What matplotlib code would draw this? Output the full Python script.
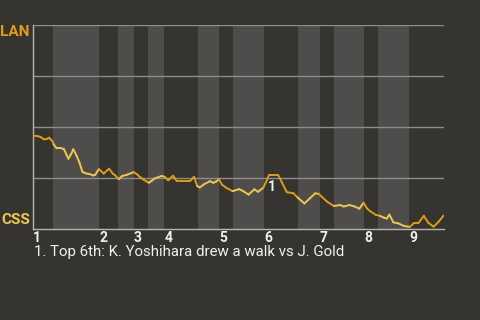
import matplotlib
matplotlib.use("Agg")
import matplotlib.pyplot as plt
from matplotlib.collections import LineCollection
import numpy as np

plt.rcParams['font.family'] = ['Roboto', 'DejaVu Sans']

# game progress (0-100) and LAN win probability (%) after each play
progress = [0, 1.1, 1.9, 2.6, 3.3, 3.9, 4.2, 4.7, 5.0, 5.7, 6.9, 7.5, 8.1, 8.6, 9.3, 9.8,
            10.6, 11.3, 12.0, 12.8, 13.7, 14.6, 15.1, 16.0, 17.2, 18.5, 19.4, 19.9, 20.9,
            21.7, 22.8, 24.5, 25.2, 26.0, 26.6, 27.1, 27.6, 28.2, 28.9, 29.7, 31.3, 32.1,
            32.9, 34.1, 35.0, 38.2, 39.2, 40.0, 40.6, 41.6, 43.1, 43.9, 44.5, 45.3, 46.0,
            47.1, 48.6, 50.2, 51.2, 52.5, 53.9, 54.8, 56.1, 57.5, 59.7, 60.6, 61.8, 63.4,
            64.5, 66.1, 67.5, 68.7, 69.6, 70.4, 71.6, 73.3, 74.8, 75.7, 77.1, 78.3, 79.5,
            80.5, 81.4, 82.1, 83.5, 84.5, 85.5, 86.2, 86.8, 87.8, 89.0, 90.4, 91.8, 92.8,
            93.9, 95.2, 96.3, 97.6, 98.8, 100]
win_prob = [45.7, 45.6, 45.0, 44.0, 44.1, 44.8, 44.1, 43.1, 41.5, 39.6, 39.6, 39.2, 36.6,
            34.5, 36.9, 39.1, 35.9, 32.5, 28.1, 27.3, 27.0, 26.3, 26.5, 29.4, 27.2, 29.6,
            27.2, 26.5, 24.5, 26.0, 26.6, 27.9, 27.0, 25.6, 24.7, 24.0, 23.4, 22.7, 23.7,
            24.9, 26.0, 25.6, 23.9, 26.2, 23.5, 23.5, 25.6, 21.1, 20.4, 21.9, 23.5, 22.7,
            23.2, 24.4, 21.8, 20.2, 18.6, 19.6, 18.6, 16.9, 19.5, 18.3, 20.3, 26.5, 26.5,
            23.0, 18.1, 17.6, 15.4, 12.6, 15.2, 17.5, 17.3, 15.7, 13.5, 11.3, 11.8, 11.1,
            11.8, 11.1, 10.0, 12.9, 10.0, 8.8, 7.0, 6.5, 5.6, 5.2, 7.1, 3.3, 2.8, 1.5, 1.1,
            3.0, 3.0, 6.5, 3.1, 1.2, 3.6, 6.6]

# half inning boundaries (top 1, bottom 1, top 2, ...)
half_bounds = [0, 4.9, 16.1, 20.7, 24.6, 28.0, 32.0, 40.2, 45.4, 48.8, 56.3, 64.6,
               69.8, 73.2, 80.7, 84.1, 91.7, 100]
inning_labels = ['1', '2', '3', '4', '5', '6', '7', '8', '9']

note_idx = 63
note_text = '1. Top 6th: K. Yoshihara drew a walk vs J. Gold'

BG = '#363430'
BAND = '#4e4d4b'
GRID = '#8c8c8a'
AWAY = '#e09c12'   # LAN
HOME = '#eec84a'   # CSS

fig = plt.figure(figsize=(4.8, 3.2), dpi=100, facecolor=BG)
ax = fig.add_axes([0.069, 0.284, 0.855, 0.638], facecolor=BG)

# bottom halves are shaded
for i in range(1, len(half_bounds) - 1, 2):
    ax.axvspan(half_bounds[i], half_bounds[i + 1], color=BAND, lw=0, zorder=0)

for g in [25, 50, 75, 100]:
    ax.axhline(g, color=GRID, lw=1, zorder=1)

# colour each segment by the half inning it falls in
x = np.array(progress)
y = np.array(win_prob)
segs = np.stack([np.column_stack([x[:-1], y[:-1]]), np.column_stack([x[1:], y[1:]])], axis=1)
mids = (x[:-1] + x[1:]) / 2
half = np.searchsorted(half_bounds, mids) - 1
cols = [AWAY if h % 2 == 0 else HOME for h in half]
ax.add_collection(LineCollection(segs, colors=cols, linewidths=1.4, zorder=3,
                                 capstyle='round', joinstyle='round'))

ax.annotate('1', (progress[note_idx], win_prob[note_idx]), xytext=(2.5, -12),
            textcoords='offset pixels', ha='center', va='center', color='#f0f0f0',
            fontsize=10, fontweight='bold', zorder=4)

ax.set_xlim(0, 100)
ax.set_ylim(0, 100)

for s in ['top', 'right']:
    ax.spines[s].set_visible(False)
for s in ['left', 'bottom']:
    ax.spines[s].set_color('#b4b4b2')
    ax.spines[s].set_linewidth(1)

ax.set_yticks([])
ax.set_xticks(half_bounds[0:-1:2])
ax.set_xticklabels(inning_labels, ha='left', color='#f0f0f0', fontsize=10,
                   fontweight='bold')
ax.tick_params(axis='x', length=0, pad=1)

ax.text(-0.008, 1.0, 'LAN', transform=ax.transAxes, ha='right', va='top',
        color=AWAY, fontsize=11, fontweight='bold')
ax.text(-0.008, 0.01, 'CSS', transform=ax.transAxes, ha='right', va='bottom',
        color=HOME, fontsize=11, fontweight='bold')

fig.text(34 / 480, 1 - 252 / 320, note_text, ha='left', va='center', color='#f0f0f0',
         fontsize=10.8)

fig.savefig('out.png', dpi=100, facecolor=BG)
